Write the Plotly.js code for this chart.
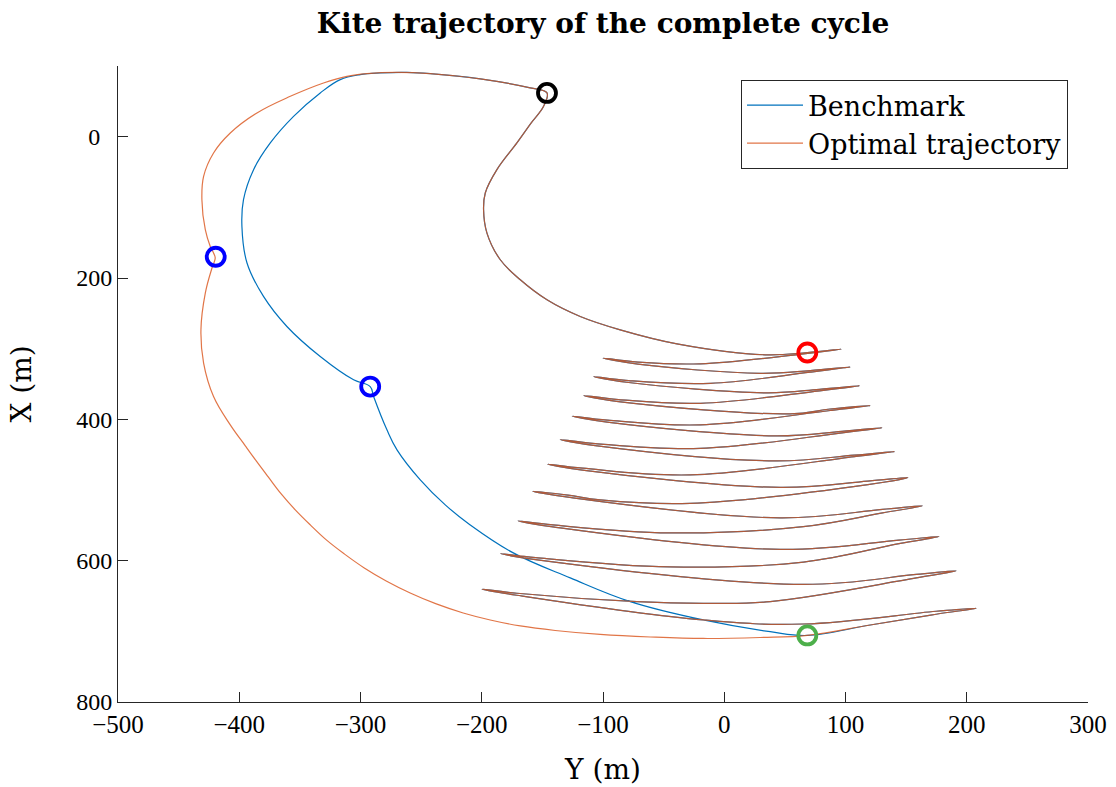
<!DOCTYPE html>
<html>
<head>
<meta charset="utf-8">
<script src="https://cdn.plot.ly/plotly-3.0.1.min.js"></script>
<style>
  html, body { margin: 0; padding: 0; background: #ffffff; }
  #chart { width: 1116px; height: 787px; }
</style>
</head>
<body>
<div id="chart"></div>
<script>
// Kite position over one pumping cycle: lateral position Y (m) against downwind position X (m).

// Traction phase (shared by both runs): descent from the top of the cycle, then the figure-eight sweeps.
const tractionY = [
  -146.2, -149.0, -159.2, -171.0, -187.5, -197.1, -198.5, -195.7, -184.7, -168.2, -146.2, -118.8, -85.8, -39.0, 33.8, 68.5, 96.5,
  63.5, -19.8, -71.2, -100.0,
  -71.2, 29.7, 70.9, 103.9,
  70.9, -11.5, -78.9, -107.8,
  -78.9, 35.5, 78.6, 111.6,
  78.6, -19.8, -87.2, -116.0,
  -87.2, 54.4, 87.4, 120.4,
  87.4, -19.8, -96.5, -125.4,
  -96.5, 42.1, 97.1, 130.1,
  97.1, -19.8, -106.4, -135.3,
  -106.4, 42.1, 107.5, 140.5,
  107.5, -28.0, -116.9, -145.7,
  -116.9, 46.2, 118.5, 151.5,
  118.5, -28.0, -102.3, -128.9, -157.8,
  -128.9, 46.2, 130.6, 163.5,
  130.6, 65.2, -44.5, -141.3, -170.1,
  -141.3, 46.2, 144.1, 177.1,
  144.1, 65.4, -44.5, -155.6, -184.5,
  -155.6, 65.2, 158.4, 191.3,
  158.4, 37.9, -17.3, -72.0, -171.0, -199.8,
  -171.0, -17.3, 65.2, 174.8, 207.8,
  174.8, 120.4, 68.5
];
const tractionX = [
  -61.9, -42.9, -19.4, 8.9, 46.7, 79.7, 103.4, 136.4, 174.2, 202.5, 230.8, 254.4, 273.3, 293.1, 308.7, 305.4, 300.6,
  307.7, 321.4, 319.0, 313.3,
  321.8, 334.9, 331.0, 326.1,
  333.2, 349.0, 345.1, 339.4,
  347.9, 362.5, 357.5, 352.6,
  359.6, 377.3, 372.0, 366.3,
  374.8, 392.2, 385.4, 380.5,
  387.5, 407.8, 401.1, 395.5,
  404.0, 423.4, 417.0, 412.0,
  419.1, 441.1, 434.3, 428.6,
  437.1, 458.8, 450.6, 445.6,
  452.7, 478.6, 469.1, 463.4,
  471.9, 496.3, 487.4, 482.4,
  492.3, 518.9, 514.0, 507.3, 501.7,
  510.2, 539.5, 527.4, 522.5,
  532.4, 551.8, 560.7, 549.4, 543.7,
  552.2, 584.1, 570.9, 566.0,
  575.9, 602.0, 608.9, 595.7, 590.0,
  598.5, 633.6, 619.5, 614.5,
  624.4, 658.0, 660.3, 658.0, 646.1, 640.4,
  648.9, 683.9, 689.6, 671.6, 667.3,
  675.8, 691.0, 705.8
];

// Retraction and transition back to the top, benchmark run.
const benchReturnY = [
  37.9, -17.3, -77.5, -127.0, -174.0, -209.5, -230.1, -250.7, -269.9, -278.2, -289.2, -292.0, -305.7, -333.2,
  -360.7, -380.0, -393.6, -397.8, -396.5, -388.2, -374.4, -355.2, -333.2, -316.7, -300.2, -283.7,
  -261.7, -242.5, -201.2, -160.0, -146.2
];
const benchReturnX = [
  700.5, 683.9, 658.0, 624.4, 589.0, 549.4, 521.1, 485.7, 443.2, 414.9, 367.7, 353.6, 344.1, 311.1,
  268.6, 226.1, 178.8, 127.0, 89.2, 46.7, 8.9, -28.7, -61.9, -80.7, -87.8, -90.2,
  -91.0, -89.2, -81.7, -69.0, -61.9
];

// Retraction and transition back to the top, optimal trajectory.
const optReturnY = [
  29.7, -17.3, -61.0, -102.3, -139.4, -168.2, -193.0, -215.3, -237.5, -259.0, -278.8, -296.9, -313.4,
  -328.2, -341.4, -353.8, -365.4, -376.1, -386.0, -395.0, -407.4, -421.2, -429.4, -431.6, -428.0,
  -422.5, -419.8, -421.2, -423.9, -428.0, -430.8, -429.4, -421.2, -407.4, -385.4, -357.9, -330.5,
  -311.2, -294.7, -269.9, -242.5, -201.2, -160.0, -146.2
];
const optReturnX = [
  708.7, 710.1, 708.0, 704.4, 698.8, 692.4, 683.9, 674.0, 661.2, 645.7, 628.7, 610.3, 590.4,
  570.6, 549.4, 528.1, 505.5, 481.4, 458.8, 437.5, 407.8, 367.7, 320.4, 273.3, 221.3,
  185.9, 171.8, 164.7, 155.3, 131.7, 89.2, 56.2, 23.1, -5.2, -33.6, -57.1, -76.0,
  -85.4, -89.2, -91.0, -89.2, -81.7, -69.0, -61.9
];

// Phase switching points: top of cycle, traction start, traction end, retraction ends.
const switchY = [-146.2, 68.5, 68.5, -419.4, -292.0];
const switchX = [-61.9, 305.4, 705.8, 169.9, 353.6];
const switchColors = ['#000000', '#ff0000', '#4daf4a', '#0000ff', '#0000ff'];

// Axis ticks.
const yTickVals = [0, 200, 400, 600, 800];
const yTickText = ['\u20070\u2007', '200', '400', '600', '800'];

const benchY = tractionY.concat(benchReturnY);
const benchX = tractionX.concat(benchReturnX);
const optY = tractionY.concat(optReturnY);
const optX = tractionX.concat(optReturnX);

const serif = 'Liberation Serif, Times New Roman, serif';
const wideSerif = 'DejaVu Serif, serif';

const pathLine = { width: 1.2, shape: 'spline', smoothing: 1.1, simplify: false };

const traces = [
  {
    x: benchY, y: benchX, type: 'scatter', mode: 'lines', name: 'Benchmark',
    line: Object.assign({ color: '#0072BD' }, pathLine)
  },
  {
    x: optY, y: optX, type: 'scatter', mode: 'lines', name: 'Optimal trajectory',
    opacity: 0.8,
    line: Object.assign({ color: '#D95319' }, pathLine)
  }
];

switchY.forEach(function (v, i) {
  traces.push({
    x: [v], y: [switchX[i]], type: 'scatter', mode: 'markers', showlegend: false, hoverinfo: 'skip',
    marker: { symbol: 'circle-open', size: 18, color: switchColors[i], line: { width: 3.8 } }
  });
});

const axisCommon = {
  showgrid: false, zeroline: false, showline: true, linecolor: '#262626', linewidth: 1,
  ticks: 'inside', ticklen: 10, tickwidth: 1, tickcolor: '#262626'
};

const layout = {
  width: 1116, height: 787,
  margin: { l: 118, r: 28, t: 66, b: 85 },
  paper_bgcolor: '#ffffff', plot_bgcolor: '#ffffff',
  font: { family: serif, color: '#000000' },
  title: {
    text: '<b>Kite trajectory of the complete cycle</b>',
    font: { family: wideSerif, size: 28, color: '#000000' },
    xref: 'paper', x: 0.5, xanchor: 'center',
    yref: 'container', y: 0.971, yanchor: 'middle'
  },
  xaxis: Object.assign({}, axisCommon, {
    range: [-500, 300], tick0: 0, dtick: 100,
    tickfont: { family: serif, size: 25, color: '#000000' },
    title: { text: 'Y (m)', font: { family: wideSerif, size: 28 }, standoff: 22 }
  }),
  yaxis: Object.assign({}, axisCommon, {
    range: [800, -100], tickvals: yTickVals, ticktext: yTickText,
    tickfont: { family: serif, size: 24, color: '#000000' },
    title: { text: 'X (m)', font: { family: wideSerif, size: 28 }, standoff: 36 }
  }),
  legend: {
    x: 0.9794, xanchor: 'right', y: 0.978, yanchor: 'top',
    bgcolor: '#ffffff', bordercolor: '#262626', borderwidth: 1,
    font: { family: wideSerif, size: 27, color: '#000000' },
    itemwidth: 56, tracegroupgap: 0
  },
  showlegend: true
};

Plotly.newPlot('chart', traces, layout, { staticPlot: true, displayModeBar: false });
</script>
</body>
</html>
